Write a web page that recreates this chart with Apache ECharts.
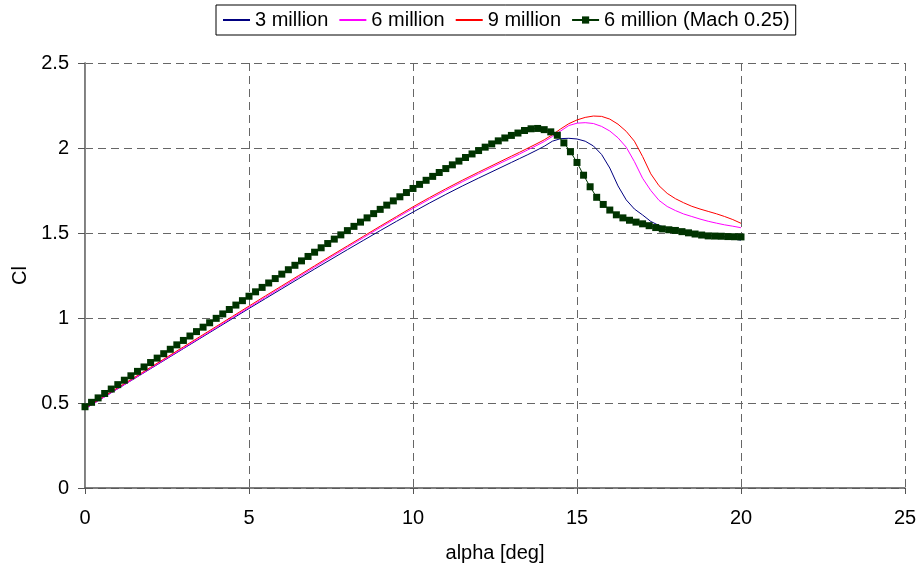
<!DOCTYPE html>
<html>
<head>
<meta charset="utf-8">
<script src="https://cdn.jsdelivr.net/npm/echarts@6/dist/echarts.min.js"></script>
<style>
  html, body { margin: 0; padding: 0; background: #fff; }
  #chart { width: 920px; height: 570px; }
</style>
</head>
<body>
<div id="chart"></div>
<script>
// Lift coefficient vs. angle of attack at several Reynolds numbers
const seriesNames = ['3 million', '6 million', '9 million', '6 million (Mach 0.25)'];

const alphaLines = [0, 0.5, 1, 1.5, 2, 2.5, 3, 3.5, 4, 4.5, 5, 5.5, 6, 6.5, 7, 7.5, 8, 8.5, 9, 9.5,
  10, 10.5, 11, 11.5, 12, 12.5, 13, 13.25, 13.5, 13.75, 14, 14.25, 14.5, 14.75, 15, 15.25, 15.5, 15.75,
  16, 16.25, 16.5, 16.75, 17, 17.25, 17.5, 17.75, 18, 18.25, 18.5, 18.75, 19, 19.25, 19.5, 19.75, 20];

const cl3M = [0.466, 0.525, 0.584, 0.643, 0.702, 0.761, 0.820, 0.879, 0.938, 0.997, 1.056, 1.114, 1.172, 1.230,
  1.288, 1.345, 1.402, 1.458, 1.514, 1.569, 1.623, 1.676, 1.727, 1.776, 1.823, 1.869, 1.915, 1.938, 1.961,
  1.985, 2.010, 2.040, 2.055, 2.057, 2.053, 2.040, 2.012, 1.962, 1.882, 1.777, 1.695, 1.641, 1.606, 1.568,
  1.544, 1.530, 1.519, 1.510, 1.502, 1.495, 1.487, 1.480, 1.472, 1.465, 1.458];

const cl6M = [0.466, 0.525, 0.585, 0.644, 0.704, 0.764, 0.823, 0.883, 0.943, 1.003, 1.062, 1.122, 1.181, 1.240,
  1.299, 1.358, 1.416, 1.474, 1.532, 1.589, 1.645, 1.699, 1.751, 1.801, 1.849, 1.896, 1.942, 1.965, 1.989,
  2.013, 2.038, 2.068, 2.100, 2.132, 2.146, 2.149, 2.144, 2.127, 2.100, 2.060, 2.005, 1.920, 1.822, 1.750,
  1.692, 1.656, 1.632, 1.612, 1.597, 1.582, 1.569, 1.558, 1.548, 1.540, 1.531];

const cl9M = [0.470, 0.530, 0.590, 0.650, 0.710, 0.770, 0.830, 0.890, 0.950, 1.010, 1.070, 1.130, 1.189, 1.248,
  1.307, 1.366, 1.424, 1.482, 1.540, 1.597, 1.654, 1.708, 1.760, 1.810, 1.858, 1.905, 1.952, 1.975, 1.999,
  2.023, 2.048, 2.078, 2.112, 2.143, 2.165, 2.180, 2.188, 2.186, 2.170, 2.140, 2.098, 2.040, 1.950, 1.848,
  1.778, 1.733, 1.702, 1.678, 1.657, 1.641, 1.627, 1.613, 1.597, 1.579, 1.557];

const alphaMach = [0, 0.2, 0.4, 0.6, 0.8, 1, 1.2, 1.4, 1.6, 1.8, 2, 2.2, 2.4, 2.6, 2.8, 3, 3.2, 3.4, 3.6, 3.8,
  4, 4.2, 4.4, 4.6, 4.8, 5, 5.2, 5.4, 5.6, 5.8, 6, 6.2, 6.4, 6.6, 6.8, 7, 7.2, 7.4, 7.6, 7.8,
  8, 8.2, 8.4, 8.6, 8.8, 9, 9.2, 9.4, 9.6, 9.8, 10, 10.2, 10.4, 10.6, 10.8, 11, 11.2, 11.4, 11.6, 11.8,
  12, 12.2, 12.4, 12.6, 12.8, 13, 13.2, 13.4, 13.6, 13.8, 14, 14.2, 14.4, 14.6, 14.8, 15, 15.2, 15.4, 15.6, 15.8,
  16, 16.2, 16.4, 16.6, 16.8, 17, 17.2, 17.4, 17.6, 17.8, 18, 18.2, 18.4, 18.6, 18.8, 19, 19.2, 19.4, 19.6, 19.8, 20];

const clMach = [0.478, 0.504, 0.530, 0.556, 0.582, 0.608, 0.634, 0.660, 0.686, 0.712,
  0.738, 0.764, 0.790, 0.816, 0.842, 0.868, 0.894, 0.920, 0.946, 0.972,
  0.998, 1.024, 1.050, 1.076, 1.102, 1.128, 1.154, 1.180, 1.206, 1.232,
  1.258, 1.284, 1.310, 1.336, 1.362, 1.387, 1.413, 1.438, 1.464, 1.489,
  1.514, 1.539, 1.564, 1.589, 1.614, 1.639, 1.664, 1.689, 1.713, 1.738,
  1.762, 1.786, 1.810, 1.833, 1.856, 1.879, 1.901, 1.923, 1.944, 1.965,
  1.985, 2.005, 2.024, 2.042, 2.059, 2.074, 2.088, 2.103, 2.113, 2.115,
  2.108, 2.095, 2.075, 2.030, 1.978, 1.915, 1.840, 1.772, 1.710, 1.668,
  1.635, 1.607, 1.589, 1.575, 1.564, 1.554, 1.543, 1.532, 1.524, 1.519,
  1.515, 1.508, 1.501, 1.494, 1.488, 1.483, 1.482, 1.481, 1.479, 1.478, 1.477];

const xTicks = { min: 0, max: 25, interval: 5 };
const yTicks = { min: 0, max: 2.5, interval: 0.5 };

const pairs = (xs, ys) => xs.map((x, i) => [x, ys[i]]);

const FONT = 'Liberation Sans, Arial, sans-serif';
const chart = echarts.init(document.getElementById('chart'), null, { renderer: 'canvas' });

const plainLine = (name, color, xs, ys) => ({
  name, type: 'line', data: pairs(xs, ys),
  symbol: 'none', smooth: false,
  lineStyle: { color, width: 1 }, itemStyle: { color },
  emphasis: { disabled: true }
});

// legend entries: plain line samples for the first three, line + square for the last
const legendData = seriesNames.map((name, i) =>
  i < 3 ? { name, itemStyle: { opacity: 0 } } : { name });

chart.setOption({
  animation: false,
  backgroundColor: '#fff',
  textStyle: { fontFamily: FONT, color: '#000' },
  grid: { left: 85, right: 15, top: 63, bottom: 82, containLabel: false },
  legend: {
    data: legendData,
    left: 216, top: 5,
    itemWidth: 27, itemHeight: 9, itemGap: 10,
    padding: [5, 6, 5, 6],
    borderColor: '#000', borderWidth: 1,
    textStyle: { fontSize: 20, fontFamily: FONT, color: '#000' }
  },
  xAxis: {
    type: 'value', min: xTicks.min, max: xTicks.max, interval: xTicks.interval,
    name: 'alpha [deg]', nameLocation: 'middle', nameGap: 55,
    nameTextStyle: { fontSize: 20, fontFamily: FONT, color: '#000' },
    axisLine: { show: true, onZero: false, lineStyle: { color: '#555', width: 1.5 } },
    axisTick: { show: true, inside: false, length: 6, lineStyle: { color: '#555', width: 1 } },
    axisLabel: { fontSize: 20, fontFamily: FONT, color: '#000', margin: 20 },
    splitLine: { show: true, lineStyle: { color: '#666', type: [8, 5], width: 1 } }
  },
  yAxis: [{
    type: 'value', min: yTicks.min, max: yTicks.max, interval: yTicks.interval,
    name: 'Cl', nameLocation: 'middle', nameGap: 54, nameRotate: 90,
    nameTextStyle: { fontSize: 20, fontFamily: FONT, color: '#000' },
    axisLine: { show: true, onZero: false, lineStyle: { color: '#555', width: 1.5 } },
    axisTick: { show: true, inside: false, length: 7, lineStyle: { color: '#555', width: 1 } },
    axisLabel: { fontSize: 20, fontFamily: FONT, color: '#000', margin: 16 },
    splitLine: { show: true, lineStyle: { color: '#666', type: [8, 5], width: 1 } }
  }, {
    // plain frame edge on the right side of the plot
    type: 'value', position: 'right', min: yTicks.min, max: yTicks.max, interval: yTicks.interval,
    axisLine: { show: true, lineStyle: { color: '#888', width: 1 } },
    axisTick: { show: false }, axisLabel: { show: false }, splitLine: { show: false }
  }],
  series: [
    plainLine(seriesNames[0], '#000080', alphaLines, cl3M),
    plainLine(seriesNames[1], '#ff00ff', alphaLines, cl6M),
    plainLine(seriesNames[2], '#ff0000', alphaLines, cl9M),
    {
      name: seriesNames[3], type: 'line', data: pairs(alphaMach, clMach),
      symbol: 'rect', symbolSize: 7, showAllSymbol: true,
      lineStyle: { color: '#003300', width: 1 },
      itemStyle: { color: '#003300' },
      emphasis: { disabled: true }
    }
  ]
});
</script>
</body>
</html>
